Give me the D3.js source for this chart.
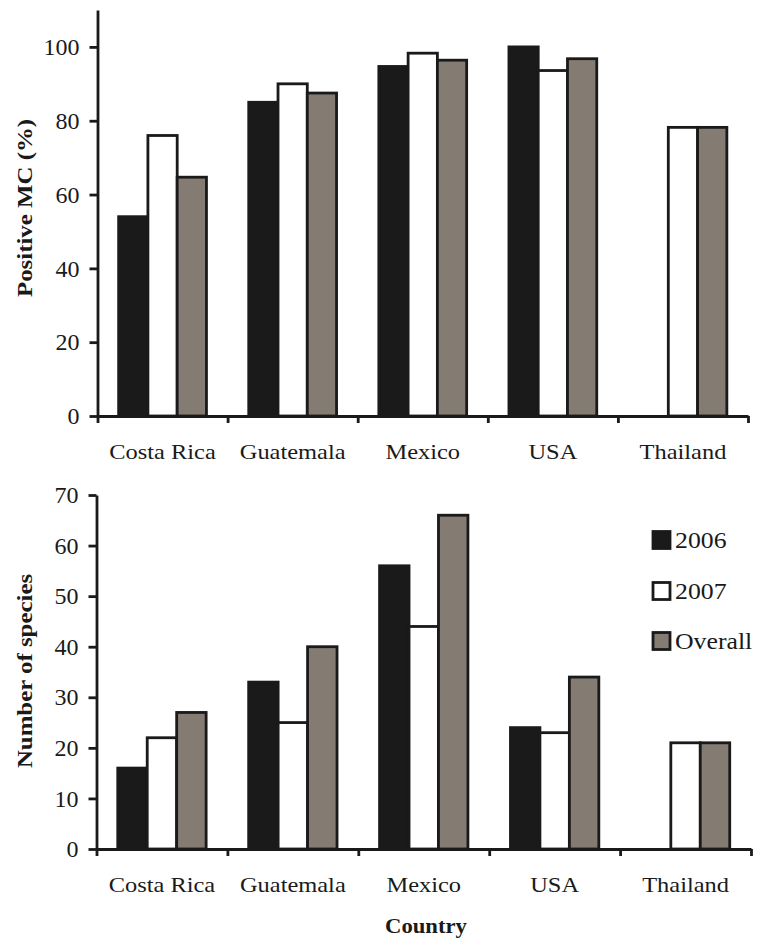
<!DOCTYPE html>
<html>
<head>
<meta charset="utf-8">
<script src="https://cdn.jsdelivr.net/npm/d3@7"></script>
<style>
  html, body { margin: 0; padding: 0; background: #fff; }
  svg { display: block; }
  text { font-family: "Liberation Serif", "Times New Roman", serif; fill: #1a1a1a; }
</style>
</head>
<body>
<svg id="chart" width="757" height="945"></svg>
<script>
// ---- data ----
const countries = ["Costa Rica", "Guatemala", "Mexico", "USA", "Thailand"];
const seriesNames = ["2006", "2007", "Overall"];
const mc2006 = [54, 85, 94.7, 100, null];
const mc2007 = [76, 90, 98.3, 93.6, 78.2];
const mcOverall = [64.7, 87.5, 96.4, 96.8, 78.2];
const sp2006 = [16, 33, 56, 24, null];
const sp2007 = [22, 25, 44, 23, 21];
const spOverall = [27, 40, 66, 34, 21];
const mcTicks = [0, 20, 40, 60, 80, 100];
const spTicks = [0, 10, 20, 30, 40, 50, 60, 70];

const fills = { "2006": "#1a1a1a", "2007": "#ffffff", "Overall": "#847b72" };
const ink = "#1a1a1a";

const svg = d3.select("#chart");

function stretch(sel, k) {
  sel.each(function () {
    const L = this.getComputedTextLength();
    d3.select(this).attr("textLength", L * k).attr("lengthAdjust", "spacingAndGlyphs");
  });
}

function panel(opts) {
  const { x0, x1, yBase, yTop, yMax, ticks, data, title, titleY } = opts;
  const g = svg.append("g");
  const x = d3.scaleBand().domain(countries).range([x0, x1]).padding(0);
  const bw = x.bandwidth();
  const groupW = bw * 0.675;
  const x1s = d3.scaleBand().domain(seriesNames).range([(bw - groupW) / 2, (bw + groupW) / 2]).padding(0);
  const y = d3.scaleLinear().domain([0, yMax]).range([yBase, yTop]);

  const rows = [];
  countries.forEach((c, i) => {
    seriesNames.forEach((s, j) => {
      const v = data[j][i];
      if (v != null) rows.push({ c, s, v });
    });
  });

  g.selectAll("rect.bar").data(rows).join("rect")
    .attr("class", "bar")
    .attr("x", d => x(d.c) + x1s(d.s))
    .attr("width", x1s.bandwidth())
    .attr("y", d => y(d.v))
    .attr("height", d => y(0) - y(d.v))
    .attr("fill", d => fills[d.s])
    .attr("stroke", ink)
    .attr("stroke-width", 2.8);

  // y axis
  const ya = g.append("g").attr("transform", `translate(${x0},0)`)
    .call(d3.axisLeft(y).tickValues(ticks).tickSize(8).tickPadding(10).tickSizeOuter(0));
  ya.select(".domain").attr("stroke", ink).attr("stroke-width", 2.8);
  ya.selectAll(".tick line").attr("stroke", ink).attr("stroke-width", 2.8);
  ya.selectAll(".tick text").attr("font-size", 24).attr("fill", ink)
    .style("font-family", '"Liberation Serif", serif');

  // x axis line + boundary ticks
  const xb = d3.scaleLinear().domain([0, countries.length]).range([x0, x1]);
  const xa = g.append("g").attr("transform", `translate(0,${yBase})`)
    .call(d3.axisBottom(xb).ticks(countries.length).tickFormat("").tickSize(7).tickSizeOuter(0));
  xa.select(".domain").attr("stroke", ink).attr("stroke-width", 2.8);
  xa.selectAll(".tick line").attr("stroke", ink).attr("stroke-width", 2.8);

  // category labels
  const xl = g.append("g").attr("transform", `translate(0,${yBase})`)
    .call(d3.axisBottom(x).tickSize(0).tickPadding(27));
  xl.select(".domain").remove();
  xl.selectAll(".tick text").attr("font-size", 22).attr("fill", ink)
    .style("font-family", '"Liberation Serif", serif');
  stretch(xl.selectAll(".tick text"), 1.11);

  // y title
  const t = g.append("text")
    .attr("transform", `translate(32,${titleY}) rotate(-90)`)
    .attr("text-anchor", "middle")
    .attr("font-size", 22).attr("font-weight", "bold")
    .text(title);
  stretch(t, 1.13);
  return { x, y };
}

panel({ x0: 97.5, x1: 748, yBase: 416, yTop: 10, yMax: 110, ticks: mcTicks,
        data: [mc2006, mc2007, mcOverall], title: "Positive MC (%)", titleY: 208 });
panel({ x0: 96.5, x1: 751, yBase: 849, yTop: 495, yMax: 70, ticks: spTicks,
        data: [sp2006, sp2007, spOverall], title: "Number of species", titleY: 671 });

// x title
const ct = svg.append("text").attr("x", 426).attr("y", 933)
  .attr("text-anchor", "middle").attr("font-size", 22).attr("font-weight", "bold")
  .text("Country");
stretch(ct, 1.03);

// legend
const legendY = [540, 591, 641];
const lg = svg.append("g");
seriesNames.forEach((s, i) => {
  lg.append("rect")
    .attr("x", 653).attr("y", legendY[i] - 8.5)
    .attr("width", 17).attr("height", 17)
    .attr("fill", fills[s]).attr("stroke", ink).attr("stroke-width", 2.8);
  const tx = lg.append("text").attr("x", 675).attr("y", legendY[i] + 8)
    .attr("font-size", 23).text(s);
  stretch(tx, 1.12);
});
</script>
</body>
</html>
